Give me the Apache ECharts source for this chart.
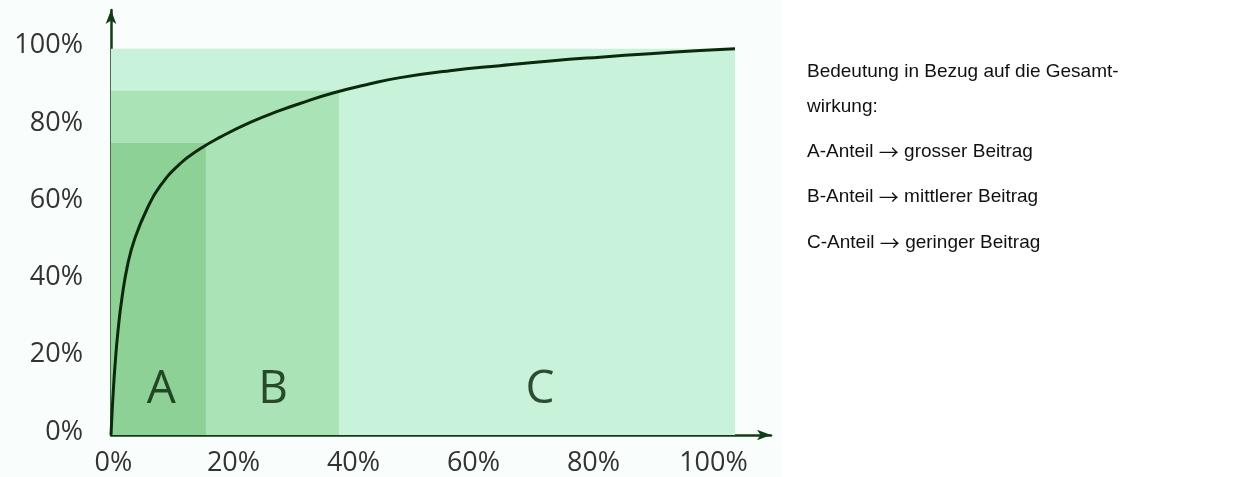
<!DOCTYPE html>
<html>
<head>
<meta charset="utf-8">
<script src="https://cdn.jsdelivr.net/npm/echarts@6/dist/echarts.min.js"></script>
<style>
  html, body { margin: 0; padding: 0; background: #ffffff; }
  #chart { width: 1257px; height: 477px; }
</style>
</head>
<body>
<div id="chart"></div>
<script>
// Cumulative share of effect (y, %) against cumulative share of items (x, %)
const curveX = [0, 0.17, 0.33, 0.67, 1.17, 1.83, 2.83, 4.0, 6.0, 8.17, 11.5, 14.8, 18.2, 23.2, 28.2, 31.5, 37.0, 43.2, 48.2, 56.5, 64.8, 73.2, 81.5, 89.8, 98.2, 104];
const curveY = [0, 5.5, 10.0, 18.0, 27.0, 35.5, 44.5, 51.0, 58.5, 64.4, 70.2, 74.0, 77.1, 80.9, 84.0, 85.8, 88.5, 90.9, 92.5, 94.3, 95.6, 96.8, 97.8, 98.7, 99.5, 100];

// ABC classes: right edge (x %) and top (y %) of each shaded block
const classNames = ['A', 'B', 'C'];
const classRight = [15.8, 38.0, 104];
const classTop = [75.6, 89.1, 100];
const classColors = ['#8dd197', '#aae4b6', '#c9f2da'];
// Letter positions inside each class
const letterX = [8.4, 27.0, 71.5];
const letterY = [11.6, 11.6, 11.6];

// Axis tick labels (%)
const tickValues = [0, 20, 40, 60, 80, 100];

// Explanation text on the right
const noteLines = [
  'Bedeutung in Bezug auf die Gesamt-',
  'wirkung:'
];
const classNotes = [
  ['A-Anteil', 'grosser Beitrag'],
  ['B-Anteil', 'mittlerer Beitrag'],
  ['C-Anteil', 'geringer Beitrag']
];

const chart = echarts.init(document.getElementById('chart'), null, { renderer: 'canvas' });

// Blocks drawn widest first so narrower classes sit on top
const areaData = [2, 1, 0].map(i => [
  { xAxis: 0, yAxis: 0, itemStyle: { color: classColors[i], opacity: 1 } },
  { xAxis: classRight[i], yAxis: classTop[i] }
]);

const axisColor = '#123c15';
const tickFont = { fontFamily: 'Open Sans', fontSize: 27, color: '#333333' };

const textX = 807;
const textColor = '#111111';
const textFont = { fontFamily: '"Liberation Sans", Arial, sans-serif', fontSize: 19, fill: textColor };
const graphics = [
  { type: 'rect', z: -10, shape: { x: 0, y: 0, width: 782, height: 477 }, style: { fill: '#f9fdfb' } }
];
const lineYs = [72, 107];
noteLines.forEach((t, i) => graphics.push({
  type: 'text', x: textX, y: lineYs[i],
  style: { text: t, ...textFont, verticalAlign: 'middle' }
}));
const noteYs = [152, 197, 243];
classNotes.forEach((t, i) => graphics.push({
  type: 'text', x: textX, y: noteYs[i],
  style: {
    text: t[0] + ' {arr|\u2192} ' + t[1], ...textFont, verticalAlign: 'middle',
    rich: { arr: { fontFamily: 'Noto Sans CJK JP', fontSize: 20, fill: textColor, verticalAlign: 'middle' } }
  }
}));

chart.setOption({
  animation: false,
  backgroundColor: 'transparent',
  grid: { left: 111, right: 486, top: 10, bottom: 42, containLabel: false },
  xAxis: {
    type: 'value', min: 0, max: 110,
    axisLine: { show: true, symbol: ['none', 'arrow'], symbolSize: [8, 14], lineStyle: { color: axisColor, width: 2.5 } },
    axisTick: { show: false },
    splitLine: { show: false },
    axisLabel: {
      show: true, margin: 15, customValues: tickValues,
      padding: [0, 0, 0, 5],
      formatter: v => v + '%', ...tickFont
    }
  },
  yAxis: {
    type: 'value', min: 0, max: 110,
    axisLine: { show: true, symbol: ['none', 'arrow'], symbolSize: [8, 14], lineStyle: { color: axisColor, width: 2.5 } },
    axisTick: { show: false },
    splitLine: { show: false },
    axisLabel: {
      show: true, margin: 28, customValues: tickValues,
      verticalAlign: 'bottom', lineHeight: 6,
      formatter: v => v + '%', ...tickFont
    }
  },
  graphic: graphics,
  series: [
    {
      type: 'line', z: 1, data: [], silent: true,
      markArea: { silent: true, data: areaData, label: { show: false } }
    },
    {
      type: 'scatter', z: 3, symbolSize: 0, silent: true,
      data: classNames.map((n, i) => ({ name: n, value: [letterX[i], letterY[i]] })),
      label: {
        show: true, position: 'inside', formatter: p => p.name,
        fontFamily: 'Open Sans', fontSize: 46, color: '#082208'
      }
    },
    {
      type: 'line', z: 5, silent: true,
      data: curveX.map((x, i) => [x, curveY[i]]),
      showSymbol: false, smooth: 0.5,
      lineStyle: { color: '#0b2a0c', width: 3 }
    }
  ]
});
</script>
</body>
</html>
